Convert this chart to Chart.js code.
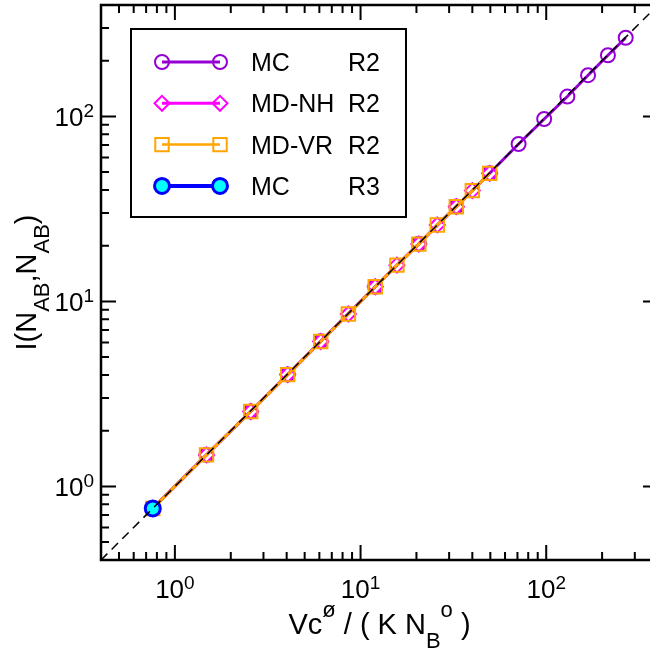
<!DOCTYPE html>
<html>
<head>
<meta charset="utf-8">
<script src="https://cdn.jsdelivr.net/npm/chart.js@4.4.0/dist/chart.umd.min.js"></script>
<style>
  html, body { margin: 0; padding: 0; background: #fff; overflow: hidden; }
  canvas { display: block; }
</style>
</head>
<body>
<canvas id="chart" width="662" height="652"></canvas>
<script>
// values (log-log, both axes 0.4 .. 400)
const mcR2X = [0.76, 1.48, 2.56, 4.05, 6.1, 12.0, 20.6, 32.8, 49.6, 71, 97.5, 130, 168, 215, 268];
const mcR2Y = [0.76, 1.48, 2.54, 4.02, 6.08, 12.0, 20.5, 32.6, 49.3, 70.9, 96.8, 128, 167, 214, 266];

const mdNhX = [0.76, 1.48, 2.56, 4.05, 6.1, 8.6, 12.0, 15.7, 20.6, 25.9, 32.8, 40.0, 49.6];
const mdNhY = [0.76, 1.48, 2.54, 4.02, 6.07, 8.55, 12.0, 15.7, 20.4, 25.9, 32.5, 39.7, 49.2];

const mdVrX = [0.76, 1.48, 2.56, 4.05, 6.1, 8.6, 12.0, 15.7, 20.6, 25.9, 32.8, 40.0, 49.6];
const mdVrY = [0.76, 1.48, 2.54, 4.02, 6.07, 8.55, 12.0, 15.7, 20.4, 25.9, 32.5, 39.7, 49.2];

const mcR3X = [0.76];
const mcR3Y = [0.76];

// y = x guide
const diagX = [0.4, 400];
const diagY = [0.4, 400];

const axisMin = 0.4;
const axisMax = 400;
const decadeTicks = [1, 10, 100];
const decadeExps = ['0', '1', '2'];

const seriesNames = ['MC', 'MD-NH', 'MD-VR', 'MC'];
const runNames = ['R2', 'R2', 'R2', 'R3'];

const FONT = '"Liberation Sans", Arial, Helvetica, sans-serif';

const pts = (xs, ys) => xs.map((v, i) => ({ x: v, y: ys[i] }));

// draws text made of normal / super (1) / sub (-1) pieces
function richWidth(ctx, parts, big, small) {
  let w = 0;
  for (const p of parts) {
    ctx.font = (p.s ? small : big) + 'px ' + FONT;
    w += ctx.measureText(p.t).width;
  }
  return w;
}
function drawRich(ctx, parts, x, y, big, small, up, down, align) {
  const w = richWidth(ctx, parts, big, small);
  let cx = align === 'right' ? x - w : x - w / 2;
  for (const p of parts) {
    ctx.font = (p.s ? small : big) + 'px ' + FONT;
    const dy = p.s === 1 ? -up : (p.s === -1 ? down : 0);
    ctx.fillText(p.t, cx, y + dy);
    cx += ctx.measureText(p.t).width;
  }
}

function marker(ctx, style, r, x, y) {
  ctx.beginPath();
  if (style === 'circle') {
    ctx.arc(x, y, r, 0, Math.PI * 2);
  } else if (style === 'rect') {
    const s = Math.SQRT1_2 * r;
    ctx.rect(x - s, y - s, 2 * s, 2 * s);
  } else if (style === 'rectRot') {
    ctx.moveTo(x - r, y);
    ctx.lineTo(x, y - r);
    ctx.lineTo(x + r, y);
    ctx.lineTo(x, y + r);
    ctx.closePath();
  }
  ctx.fill();
  ctx.stroke();
}

const framePlugin = {
  id: 'frame',
  afterDraw(chart) {
    const { ctx, chartArea: a, scales: { x, y } } = chart;
    ctx.save();
    ctx.strokeStyle = '#000';
    ctx.fillStyle = '#000';

    // ticks on all four sides, pointing inward
    const vals = [];
    for (let e = -1; e <= 2; e++) {
      for (let m = 1; m <= 9; m++) {
        const v = m * Math.pow(10, e);
        if (v > axisMin && v < axisMax) vals.push({ v, major: m === 1 });
      }
    }
    ctx.lineWidth = 2;
    ctx.beginPath();
    for (const t of vals) {
      const len = t.major ? 15 : 8;
      const px = x.getPixelForValue(t.v);
      const py = y.getPixelForValue(t.v);
      ctx.moveTo(px, a.bottom); ctx.lineTo(px, a.bottom - len);
      ctx.moveTo(px, a.top); ctx.lineTo(px, a.top + len);
      ctx.moveTo(a.left, py); ctx.lineTo(a.left + len, py);
      ctx.moveTo(a.right, py); ctx.lineTo(a.right - len, py);
    }
    ctx.stroke();

    // frame
    ctx.lineWidth = 2.5;
    ctx.strokeRect(a.left, a.top, a.right - a.left, a.bottom - a.top);

    // tick labels
    ctx.textBaseline = 'alphabetic';
    decadeTicks.forEach((v, i) => {
      const parts = [{ t: '10', s: 0 }, { t: decadeExps[i], s: 1 }];
      drawRich(ctx, parts, x.getPixelForValue(v), a.bottom + 38, 26, 19, 9, 0, 'center');
      drawRich(ctx, parts, a.left - 7, y.getPixelForValue(v) + 10, 26, 19, 9, 0, 'right');
    });

    // axis titles
    const xTitle = [
      { t: 'Vc', s: 0 }, { t: '\u00f8', s: 1 }, { t: ' / ( K N', s: 0 },
      { t: 'B', s: -1 }, { t: 'o', s: 1 }, { t: ' )', s: 0 }
    ];
    drawRich(ctx, xTitle, (a.left + a.right) / 2, 634, 29, 22, 17, 14, 'center');

    const yTitle = [
      { t: 'I(N', s: 0 }, { t: 'AB', s: -1 }, { t: ',N', s: 0 },
      { t: 'AB', s: -1 }, { t: ')', s: 0 }
    ];
    ctx.save();
    ctx.translate(36, (a.top + a.bottom) / 2);
    ctx.rotate(-Math.PI / 2);
    drawRich(ctx, yTitle, 0, 0, 29, 22, 17, 13, 'center');
    ctx.restore();

    // legend
    const bx = 131, by = 29, bw = 275, bh = 188;
    ctx.fillStyle = '#fff';
    ctx.fillRect(bx, by, bw, bh);
    ctx.lineWidth = 2;
    ctx.strokeStyle = '#000';
    ctx.strokeRect(bx, by, bw, bh);

    const legendSets = chart.data.datasets.filter(d => d.inLegend);
    legendSets.forEach((d, i) => {
      const ly = 62 + i * 41.3;
      ctx.strokeStyle = d.borderColor;
      ctx.lineWidth = d.legendLine;
      ctx.beginPath();
      ctx.moveTo(162, ly); ctx.lineTo(220, ly);
      ctx.stroke();
      ctx.fillStyle = d.pointBackgroundColor;
      ctx.strokeStyle = d.pointBorderColor;
      ctx.lineWidth = d.pointBorderWidth;
      marker(ctx, d.pointStyle, d.pointRadius, 162, ly);
      marker(ctx, d.pointStyle, d.pointRadius, 220, ly);
      ctx.fillStyle = '#000';
      ctx.font = '25px ' + FONT;
      ctx.fillText(seriesNames[i], 251, ly + 9);
      ctx.fillText(runNames[i], 348, ly + 9);
    });
    ctx.restore();
  }
};

const logAxis = {
  type: 'logarithmic',
  min: axisMin,
  max: axisMax,
  display: false
};

new Chart(document.getElementById('chart'), {
  type: 'scatter',
  data: {
    datasets: [
      {
        label: 'y = x',
        data: pts(diagX, diagY),
        showLine: true,
        borderColor: '#000',
        borderWidth: 1.5,
        borderDash: [9, 6],
        pointRadius: 0,
        order: 0
      },
      {
        label: 'MC R2',
        inLegend: true,
        legendLine: 3,
        data: pts(mcR2X, mcR2Y),
        showLine: true,
        borderColor: '#9400d3',
        borderWidth: 3,
        pointStyle: 'circle',
        pointRadius: 7,
        pointBorderWidth: 2,
        pointBorderColor: '#9400d3',
        pointBackgroundColor: 'rgba(0,0,0,0)',
        order: 4
      },
      {
        label: 'MD-NH R2',
        inLegend: true,
        legendLine: 3,
        data: pts(mdNhX, mdNhY),
        showLine: true,
        borderColor: '#ff00ff',
        borderWidth: 3,
        pointStyle: 'rectRot',
        pointRadius: 7.5,
        pointBorderWidth: 2,
        pointBorderColor: '#ff00ff',
        pointBackgroundColor: 'rgba(0,0,0,0)',
        order: 3
      },
      {
        label: 'MD-VR R2',
        inLegend: true,
        legendLine: 2.5,
        data: pts(mdVrX, mdVrY),
        showLine: true,
        borderColor: '#ffa500',
        borderWidth: 3,
        pointStyle: 'rect',
        pointRadius: 9.5,
        pointBorderWidth: 2,
        pointBorderColor: '#ffa500',
        pointBackgroundColor: 'rgba(0,0,0,0)',
        order: 2
      },
      {
        label: 'MC R3',
        inLegend: true,
        legendLine: 4,
        data: pts(mcR3X, mcR3Y),
        showLine: true,
        borderColor: '#0000ff',
        borderWidth: 4,
        pointStyle: 'circle',
        pointRadius: 7.5,
        pointBorderWidth: 3,
        pointBorderColor: '#0000ff',
        pointBackgroundColor: '#00ffff',
        order: 1
      }
    ]
  },
  options: {
    responsive: false,
    animation: false,
    devicePixelRatio: 1,
    layout: { autoPadding: false, padding: { left: 101, top: 5, right: 4, bottom: 92 } },
    scales: { x: logAxis, y: { ...logAxis } },
    plugins: { legend: { display: false }, tooltip: { enabled: false } }
  },
  plugins: [framePlugin]
});
</script>
</body>
</html>
